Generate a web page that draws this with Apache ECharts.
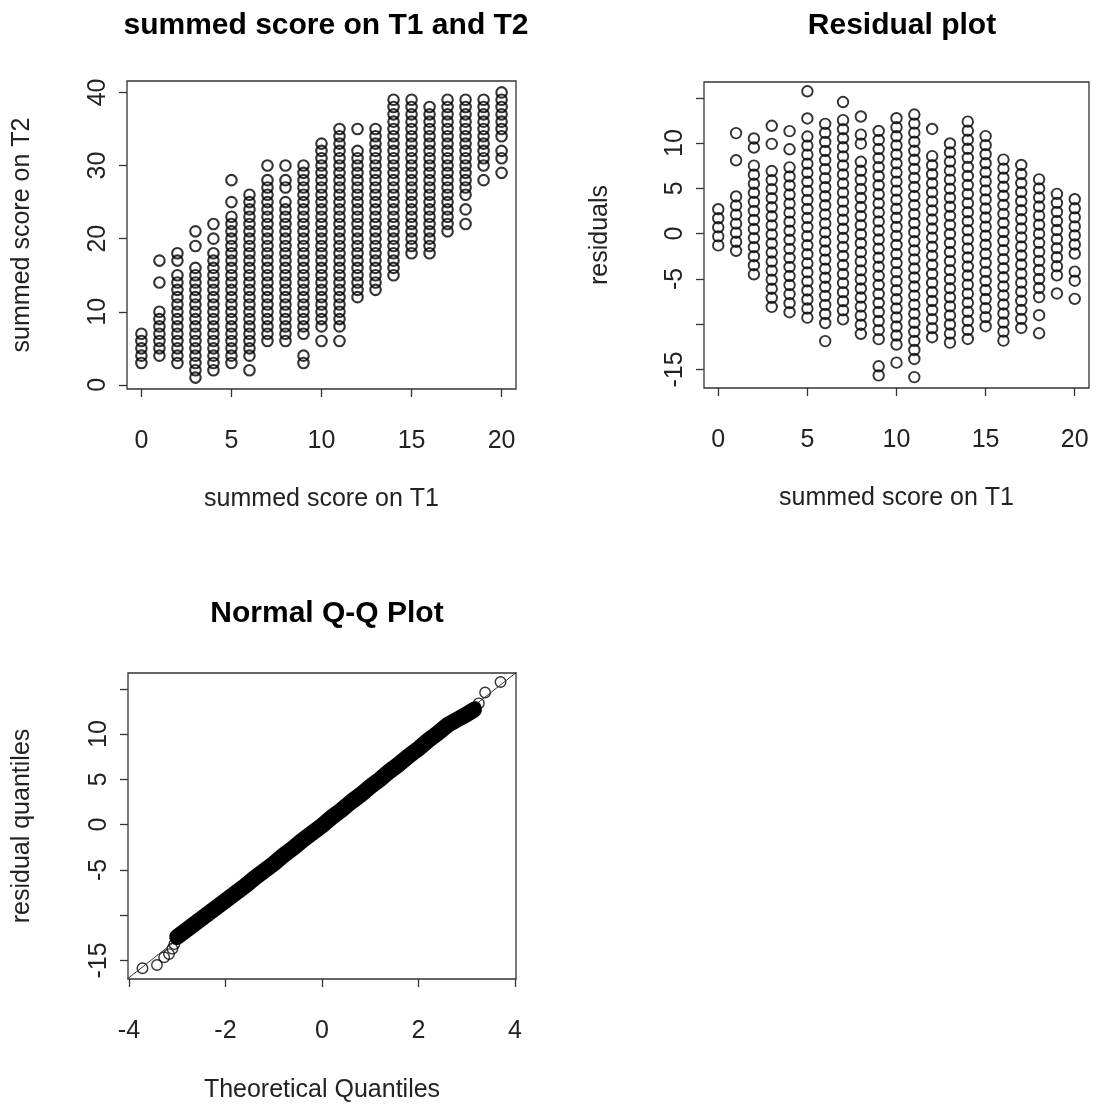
<!DOCTYPE html>
<html>
<head>
<meta charset="utf-8">
<script src="https://cdn.jsdelivr.net/npm/echarts@6/dist/echarts.min.js"></script>
<style>
  html, body { margin: 0; background: #fff; }
  #chart { width: 1097px; height: 1104px; }
</style>
</head>
<body>
<div id="chart"></div>
<script>
// summed score on T1 (x) and the T2 scores seen at each of them
const t1Scores = [0, 1, 2, 3, 4, 5, 6, 7, 8, 9, 10, 11, 12, 13, 14, 15, 16, 17, 18, 19, 20];
const t2Scores = [
  [3, 4, 5, 6, 7],
  [4, 5, 6, 7, 8, 9, 10, 14, 17],
  [3, 4, 5, 6, 7, 8, 9, 10, 11, 12, 13, 14, 15, 17, 18],
  [1, 2, 3, 4, 5, 6, 7, 8, 9, 10, 11, 12, 13, 14, 15, 16, 19, 21],
  [2, 3, 4, 5, 6, 7, 8, 9, 10, 11, 12, 13, 14, 15, 16, 17, 18, 20, 22],
  [3, 4, 5, 6, 7, 8, 9, 10, 11, 12, 13, 14, 15, 16, 17, 18, 19, 20, 21, 22, 23, 25, 28],
  [2, 4, 5, 6, 7, 8, 9, 10, 11, 12, 13, 14, 15, 16, 17, 18, 19, 20, 21, 22, 23, 24, 25, 26],
  [6, 7, 8, 9, 10, 11, 12, 13, 14, 15, 16, 17, 18, 19, 20, 21, 22, 23, 24, 25, 26, 27, 28, 30],
  [6, 7, 8, 9, 10, 11, 12, 13, 14, 15, 16, 17, 18, 19, 20, 21, 22, 23, 24, 25, 27, 28, 30],
  [3, 4, 7, 8, 9, 10, 11, 12, 13, 14, 15, 16, 17, 18, 19, 20, 21, 22, 23, 24, 25, 26, 27, 28, 29, 30],
  [6, 8, 9, 10, 11, 12, 13, 14, 15, 16, 17, 18, 19, 20, 21, 22, 23, 24, 25, 26, 27, 28, 29, 30, 31, 32, 33],
  [6, 8, 9, 10, 11, 12, 13, 14, 15, 16, 17, 18, 19, 20, 21, 22, 23, 24, 25, 26, 27, 28, 29, 30, 31, 32, 33, 34, 35],
  [12, 13, 14, 15, 16, 17, 18, 19, 20, 21, 22, 23, 24, 25, 26, 27, 28, 29, 30, 31, 32, 35],
  [13, 14, 15, 16, 17, 18, 19, 20, 21, 22, 23, 24, 25, 26, 27, 28, 29, 30, 31, 32, 33, 34, 35],
  [15, 16, 17, 18, 19, 20, 21, 22, 23, 24, 25, 26, 27, 28, 29, 30, 31, 32, 33, 34, 35, 36, 37, 38, 39],
  [18, 19, 20, 21, 22, 23, 24, 25, 26, 27, 28, 29, 30, 31, 32, 33, 34, 35, 36, 37, 38, 39],
  [18, 19, 20, 21, 22, 23, 24, 25, 26, 27, 28, 29, 30, 31, 32, 33, 34, 35, 36, 37, 38],
  [21, 22, 23, 24, 25, 26, 27, 28, 29, 30, 31, 32, 33, 34, 35, 36, 37, 38, 39],
  [22, 24, 26, 27, 28, 29, 30, 31, 32, 33, 34, 35, 36, 37, 38, 39],
  [28, 30, 31, 32, 33, 34, 35, 36, 37, 38, 39],
  [29, 31, 32, 34, 35, 36, 37, 38, 39, 40]
];

// linear fit T2 ~ T1, read from where the residual columns sit
const fitIntercept = 4.3;
const fitSlope = 1.595;

// normal Q-Q: the dense middle band and the separate points in the tails
const qqBand = [
  [-3.0, -12.4], [-2.8, -11.6], [-2.6, -10.8], [-2.4, -10.0], [-2.2, -9.2], [-2.0, -8.4],
  [-1.8, -7.6], [-1.6, -6.8], [-1.4, -5.9], [-1.2, -5.1], [-1.0, -4.3], [-0.8, -3.4],
  [-0.6, -2.6], [-0.4, -1.7], [-0.2, -0.9], [0.0, -0.1], [0.2, 0.8], [0.4, 1.6],
  [0.6, 2.5], [0.8, 3.3], [1.0, 4.2], [1.2, 5.0], [1.4, 5.9], [1.6, 6.7], [1.8, 7.6],
  [2.0, 8.4], [2.2, 9.3], [2.4, 10.1], [2.6, 11.0], [2.8, 11.6], [3.0, 12.2], [3.15, 12.7]
];
const qqTail = [
  [-3.72, -15.86], [-3.42, -15.5], [-3.27, -14.65], [-3.17, -14.3], [-3.10, -13.7],
  [-3.06, -13.2], [-3.03, -12.6],
  [3.18, 13.0], [3.25, 13.4], [3.38, 14.6], [3.70, 15.75]
];
const qqLineIntercept = -0.1;
const qqLineSlope = 4.2;

const font = 'Liberation Sans, Arial, Helvetica, sans-serif';
const ink = '#000';

const points = [];
const residuals = [];
t1Scores.forEach((x, i) => {
  t2Scores[i].forEach(y => {
    points.push([x, y]);
    residuals.push([x, y - (fitIntercept + fitSlope * x)]);
  });
});

function makeGrid(left, top, width, height) {
  return {
    left: left, top: top, width: width, height: height,
    show: true, borderColor: '#333', borderWidth: 1.3, backgroundColor: 'transparent'
  };
}

function makeAxis(dim, idx, min, max, ticks, labels, name, nameGap) {
  return {
    type: 'value', gridIndex: idx, min: min, max: max,
    name: name, nameLocation: 'middle', nameGap: nameGap,
    nameTextStyle: { fontFamily: font, fontSize: 25, color: '#222' },
    axisLine: { show: false, onZero: false },
    splitLine: { show: false },
    axisTick: { show: true, length: 8, customValues: ticks, lineStyle: { color: '#333', width: 1.3 } },
    axisLabel: {
      customValues: labels, fontFamily: font, fontSize: 25, color: '#222',
      margin: dim === 'x' ? 40 : 16, rotate: dim === 'x' ? 0 : 90
    }
  };
}

// R's open circles (pch = 1); stroke only so stacked points show through
function circle(width) {
  return {
    symbol: 'circle', symbolSize: 10.5,
    itemStyle: { color: 'rgba(0,0,0,0)', borderColor: ink, borderWidth: width }
  };
}

const chart = echarts.init(document.getElementById('chart'));
const option = {
  animation: false,
  backgroundColor: '#fff',
  title: [
    { text: 'summed score on T1 and T2', left: 321, top: 6, textAlign: 'center',
      textStyle: { fontFamily: font, fontSize: 30, fontWeight: 'bold', color: ink } },
    { text: 'Residual plot', left: 897, top: 6, textAlign: 'center',
      textStyle: { fontFamily: font, fontSize: 30, fontWeight: 'bold', color: ink } },
    { text: 'Normal Q-Q Plot', left: 322, top: 594, textAlign: 'center',
      textStyle: { fontFamily: font, fontSize: 30, fontWeight: 'bold', color: ink } }
  ],
  grid: [
    makeGrid(127, 81, 389, 308),
    makeGrid(704, 82, 385, 306),
    makeGrid(128, 673, 388, 306)
  ],
  xAxis: [
    makeAxis('x', 0, -0.8, 20.8, [0, 5, 10, 15, 20], [0, 5, 10, 15, 20], 'summed score on T1', 98),
    makeAxis('x', 1, -0.8, 20.8, [0, 5, 10, 15, 20], [0, 5, 10, 15, 20], 'summed score on T1', 98),
    makeAxis('x', 2, -4.02, 4.02, [-4, -2, 0, 2, 4], [-4, -2, 0, 2, 4], 'Theoretical Quantiles', 99)
  ],
  yAxis: [
    makeAxis('y', 0, -0.56, 41.56, [0, 10, 20, 30, 40], [0, 10, 20, 30, 40], 'summed score on T2', 92),
    makeAxis('y', 1, -17.05, 16.75, [-15, -10, -5, 0, 5, 10, 15], [-15, -5, 0, 5, 10], 'residuals', 91),
    makeAxis('y', 2, -17.05, 16.75, [-15, -10, -5, 0, 5, 10, 15], [-15, -5, 0, 5, 10], 'residual quantiles', 93)
  ],
  series: [
    Object.assign({ type: 'scatter', xAxisIndex: 0, yAxisIndex: 0, data: points }, circle(2.1)),
    Object.assign({ type: 'scatter', xAxisIndex: 1, yAxisIndex: 1, data: residuals }, circle(1.9)),
    {
      type: 'line', xAxisIndex: 2, yAxisIndex: 2, symbol: 'none', clip: true,
      data: [[-4.2, qqLineIntercept - 4.2 * qqLineSlope], [4.2, qqLineIntercept + 4.2 * qqLineSlope]],
      lineStyle: { color: '#333', width: 1 }
    },
    {
      type: 'line', xAxisIndex: 2, yAxisIndex: 2, symbol: 'none', data: qqBand,
      lineStyle: { color: ink, width: 16, cap: 'round', join: 'round' }
    },
    Object.assign({ type: 'scatter', xAxisIndex: 2, yAxisIndex: 2, data: qqTail }, circle(1.4))
  ]
};
chart.setOption(option);
</script>
</body>
</html>
